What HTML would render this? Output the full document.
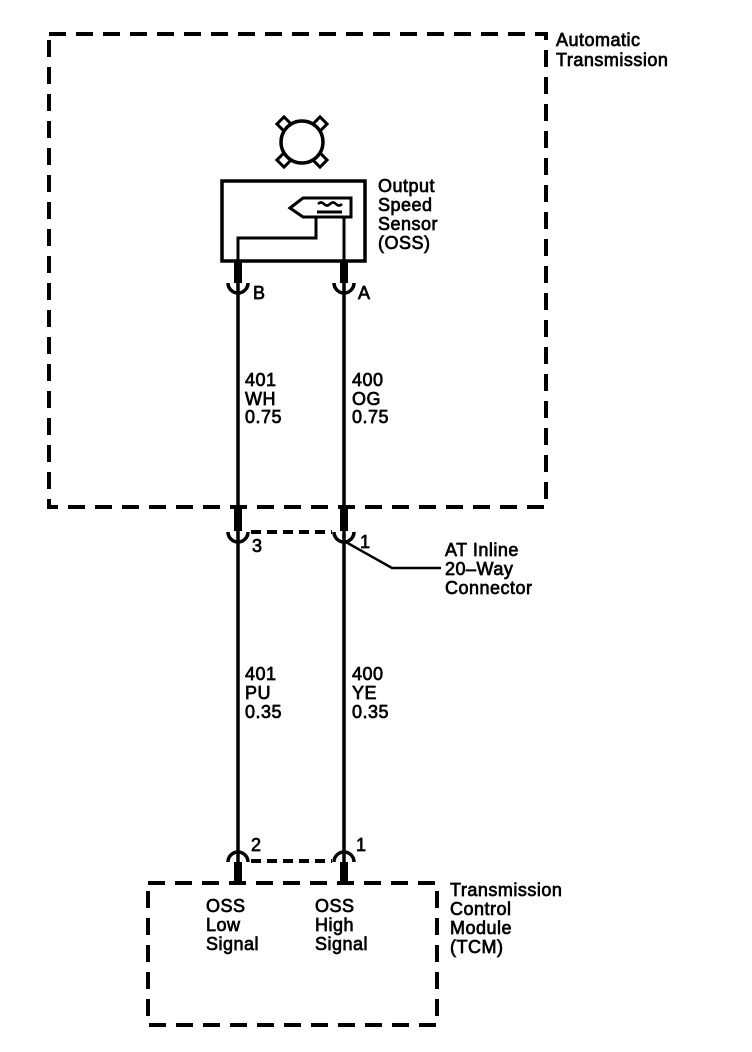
<!DOCTYPE html>
<html><head><meta charset="utf-8"><style>
html,body{margin:0;padding:0;background:#fff;}
svg{display:block;}
text{font-family:"Liberation Sans",Arial,sans-serif;font-size:18px;fill:#000;stroke:#000;stroke-width:0.7;letter-spacing:0.5px;}
</style></head><body>
<svg width="752" height="1052" viewBox="0 0 752 1052" xmlns="http://www.w3.org/2000/svg">
<g fill="none" stroke="#000">
<rect x="49" y="34" width="497" height="473" stroke-width="4" stroke-dasharray="17 10"/>
<rect x="148" y="883" width="289" height="142" stroke-width="4" stroke-dasharray="17 10"/>
<!-- gear tabs -->
<g stroke-width="3" fill="#fff">
<rect x="-5" y="-5" width="10" height="10" transform="translate(284 124) rotate(45)"/>
<rect x="-5" y="-5" width="10" height="10" transform="translate(320 124) rotate(45)"/>
<rect x="-5" y="-5" width="10" height="10" transform="translate(284 160) rotate(45)"/>
<rect x="-5" y="-5" width="10" height="10" transform="translate(320 160) rotate(45)"/>
</g>
<circle cx="302" cy="142" r="21" stroke-width="3.5" fill="#fff"/>
<rect x="222" y="181" width="143" height="80" stroke-width="3.5"/>
<path d="M290 208 L303 198 L351 198 L351 217 L303 217 Z" stroke-width="3"/>
<path d="M318 204 q3 -3 6 0 q3 3 6 0 q3 -3 6 0 q3 3 6 0" stroke-width="2.5"/>
<line x1="317" y1="212" x2="342" y2="212" stroke-width="3"/>
<path d="M316 217 V238 H238 V262" stroke-width="3"/>
<line x1="344" y1="217" x2="344" y2="262" stroke-width="3"/>
<line x1="238" y1="262" x2="238" y2="883" stroke-width="3.5"/>
<line x1="344" y1="262" x2="344" y2="883" stroke-width="3.5"/>
<g stroke-width="8">
<line x1="238" y1="262" x2="238" y2="283"/>
<line x1="344" y1="262" x2="344" y2="283"/>
<line x1="238" y1="508" x2="238" y2="531"/>
<line x1="344" y1="508" x2="344" y2="531"/>
<line x1="238" y1="862" x2="238" y2="883"/>
<line x1="344" y1="862" x2="344" y2="883"/>
</g>
<g stroke-width="3.5">
<path d="M228 283 a10 10 0 0 0 20 0"/>
<path d="M334 283 a10 10 0 0 0 20 0"/>
<path d="M228 532 a10 10 0 0 0 20 0"/>
<path d="M334 532 a10 10 0 0 0 20 0"/>
<path d="M228 862 a10 10 0 0 1 20 0"/>
<path d="M334 862 a10 10 0 0 1 20 0"/>
</g>
<line x1="251" y1="532" x2="332" y2="532" stroke-width="4" stroke-dasharray="10 6"/>
<line x1="251" y1="861" x2="332" y2="861" stroke-width="4" stroke-dasharray="10 6"/>
<path d="M344 541 L392 568 L441 568" stroke-width="2.5"/>
</g>
<text x="253" y="299">B</text>
<text x="358" y="299">A</text>
<text x="252" y="552">3</text>
<text x="360" y="548">1</text>
<text x="251" y="851">2</text>
<text x="356" y="851">1</text>
<text x="556" y="46">Automatic</text>
<text x="556" y="66">Transmission</text>
<text x="378" y="192">Output</text>
<text x="378" y="211">Speed</text>
<text x="378" y="230">Sensor</text>
<text x="378" y="249">(OSS)</text>
<text x="245" y="386">401</text><text x="245" y="405">WH</text><text x="245" y="423">0.75</text>
<text x="352" y="386">400</text><text x="352" y="405">OG</text><text x="352" y="423">0.75</text>
<text x="445" y="556">AT Inline</text>
<text x="445" y="575">20–Way</text>
<text x="445" y="594">Connector</text>
<text x="245" y="680">401</text><text x="245" y="699">PU</text><text x="245" y="718">0.35</text>
<text x="352" y="680">400</text><text x="352" y="699">YE</text><text x="352" y="718">0.35</text>
<text x="206" y="912">OSS</text><text x="206" y="931">Low</text><text x="206" y="950">Signal</text>
<text x="315" y="912">OSS</text><text x="315" y="931">High</text><text x="315" y="950">Signal</text>
<text x="450" y="896">Transmission</text>
<text x="450" y="915">Control</text>
<text x="450" y="934">Module</text>
<text x="450" y="953">(TCM)</text>
</svg>
</body></html>
